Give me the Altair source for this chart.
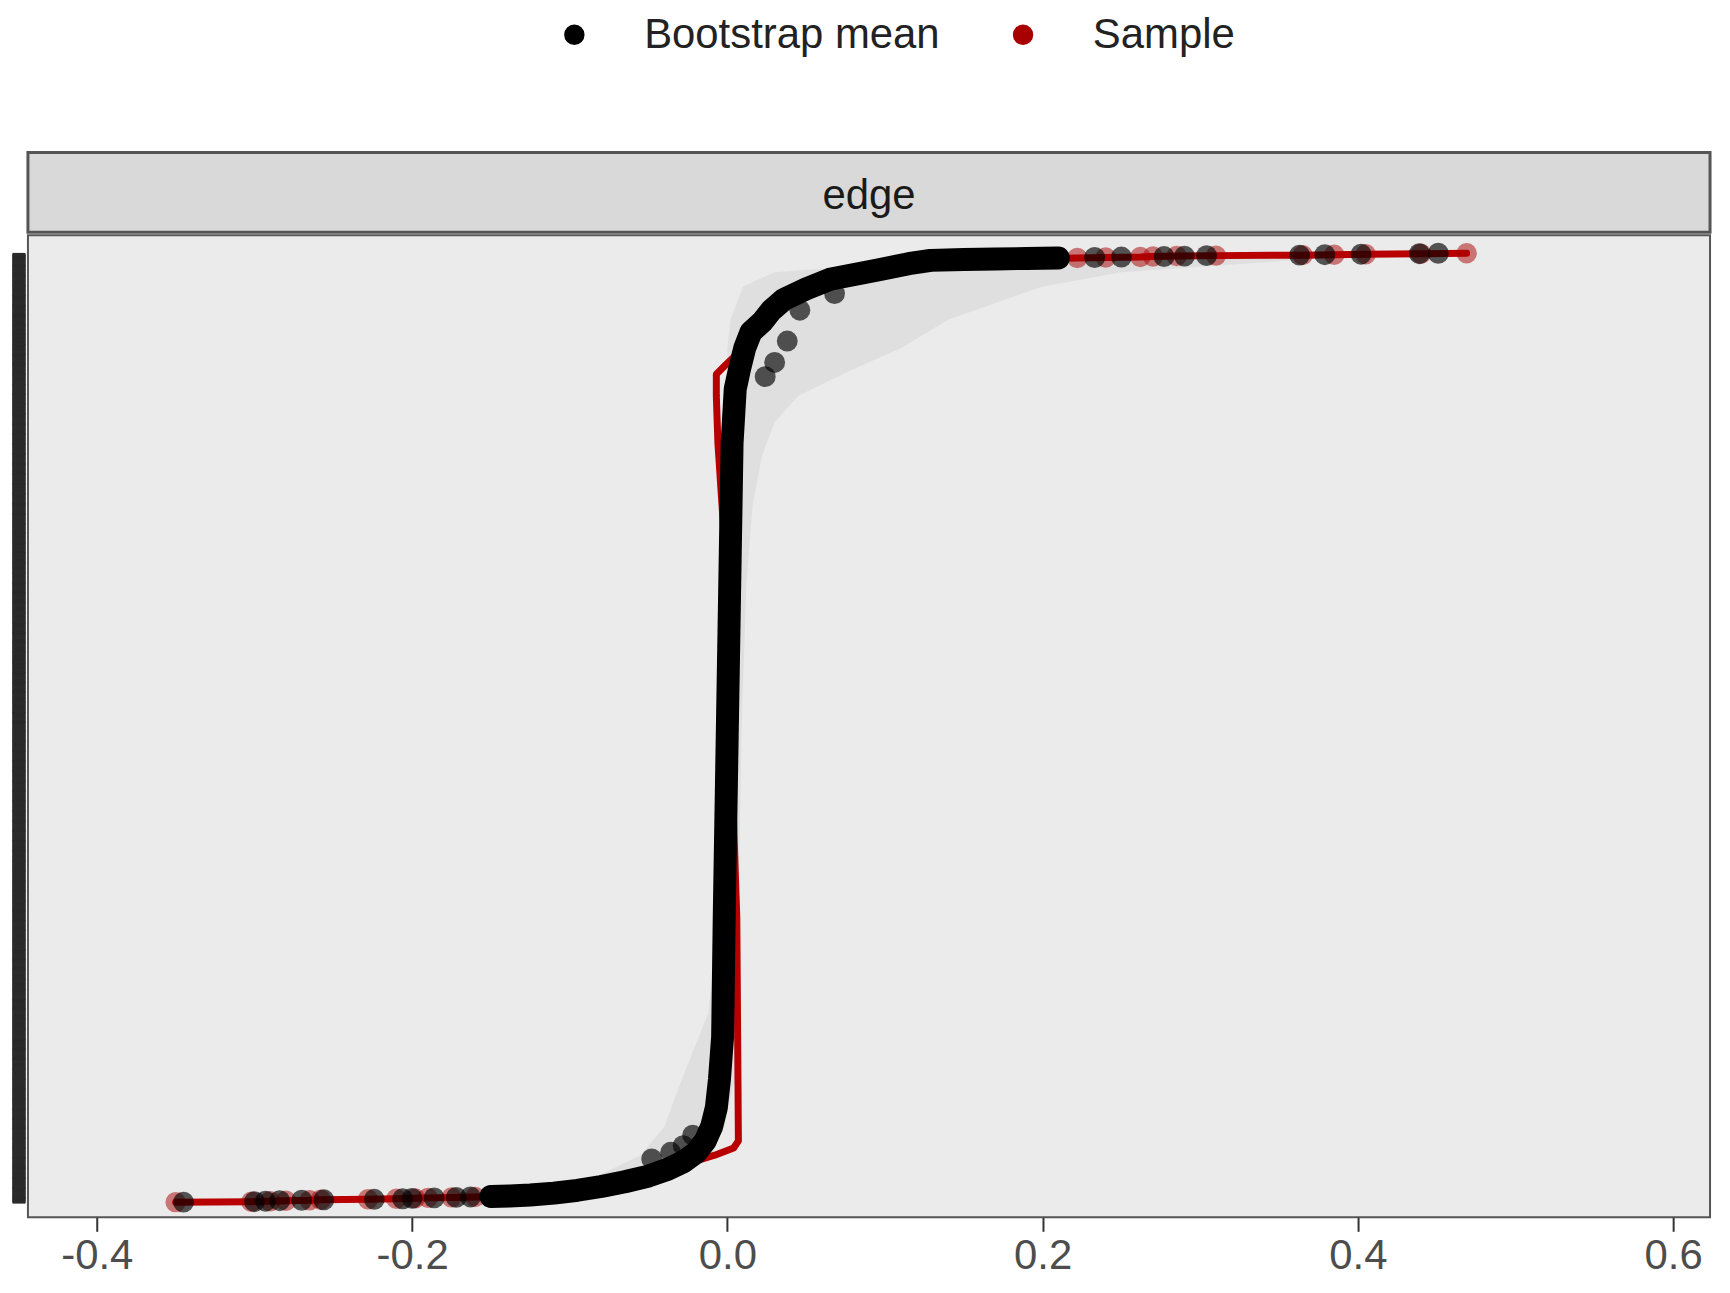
import altair as alt
import pandas as pd

N_EDGES = 2000
panel_label = "edge"
legend_labels = ["Bootstrap mean", "Sample"]
x_ticks = [-0.4, -0.2, 0.0, 0.2, 0.4, 0.6]

# bootstrap mean, ordered by edge rank
boot_rank = [1, 2, 3, 4, 5, 6, 7, 8, 9, 10, 11, 12, 13, 14, 16, 20, 26, 34, 44, 56, 70, 86,
             105, 130, 160, 200, 260, 350, 600, 1000, 1400, 1600, 1714, 1760, 1800, 1834, 1855,
             1880, 1903, 1925, 1945, 1966, 1978, 1985, 1987, 1988, 1989, 1990, 1991, 1992, 1993,
             1994, 1995, 1996, 1997, 1998, 1999, 2000]
boot_x = [-0.345, -0.300, -0.293, -0.284, -0.270, -0.256, -0.224, -0.206, -0.200, -0.186, -0.172,
          -0.163, -0.150, -0.138, -0.125, -0.110, -0.095, -0.080, -0.065, -0.050, -0.038, -0.028,
          -0.020, -0.014, -0.010, -0.007, -0.005, -0.003, -0.002, 0.000, 0.002, 0.003, 0.005,
          0.008, 0.011, 0.015, 0.022, 0.028, 0.036, 0.050, 0.065, 0.097, 0.115, 0.129, 0.150,
          0.170, 0.190, 0.210, 0.233, 0.250, 0.277, 0.290, 0.304, 0.363, 0.379, 0.402, 0.439, 0.451]

# bootstrap means that stray from the main curve
boot_out_rank = [92, 106, 120, 142, 1740, 1770, 1815, 1880, 1915]
boot_out_x = [-0.048, -0.036, -0.028, -0.022, 0.024, 0.030, 0.038, 0.046, 0.068]

# observed sample value at the same ranks
samp_rank = [1, 2, 3, 4, 5, 6, 7, 8, 9, 10, 11, 12, 13, 14, 18, 26, 40, 56, 70, 86, 100, 115,
             130, 600, 1000, 1400, 1600, 1700, 1745, 1765, 1800, 1834, 1870, 1903, 1945, 1966,
             1985, 1988, 1990, 1991, 1992, 1993, 1994, 1995, 1996, 1997, 1998, 1999, 2000]
samp_x = [-0.350, -0.302, -0.290, -0.280, -0.265, -0.258, -0.228, -0.210, -0.198, -0.190, -0.175,
          -0.160, -0.148, -0.140, -0.124, -0.097, -0.074, -0.050, -0.036, -0.022, -0.008, 0.004,
          0.007, 0.006, 0.002, -0.002, -0.006, -0.007, -0.007, -0.001, 0.010, 0.015, 0.022, 0.036,
          0.065, 0.097, 0.130, 0.190, 0.222, 0.240, 0.262, 0.270, 0.285, 0.310, 0.365, 0.385,
          0.405, 0.440, 0.469]

# bootstrap spread (light grey band)
band_rank = [1, 10, 30, 60, 100, 160, 250, 400, 600, 1000, 1300, 1469, 1574, 1644, 1700, 1756,
             1800, 1860, 1930, 1960, 1990, 2000]
band_lo = [-0.35, -0.20, -0.12, -0.08, -0.055, -0.04, -0.03, -0.012, -0.006, -0.004, -0.003,
           -0.002, -0.002, -0.001, -0.001, 0.0, 0.0, 0.002, 0.01, 0.03, 0.15, 0.40]
band_hi = [-0.30, -0.15, -0.08, -0.03, -0.01, -0.002, 0.004, 0.006, 0.007, 0.009, 0.012, 0.016,
           0.022, 0.03, 0.045, 0.08, 0.11, 0.14, 0.20, 0.25, 0.38, 0.47]

boot = pd.DataFrame({"rank": boot_rank, "value": boot_x, "series": legend_labels[0]})
boot_out = pd.DataFrame({"rank": boot_out_rank, "value": boot_out_x, "series": legend_labels[0]})
samp = pd.DataFrame({"rank": samp_rank, "value": samp_x, "series": legend_labels[1]})
band = pd.DataFrame({"rank": band_rank, "lo": band_lo, "hi": band_hi})
boot_pts = pd.concat([boot, boot_out], ignore_index=True)

FONT = "Liberation Sans"
W = 1687

x_scale = alt.Scale(domain=[-0.4437, 0.6234], nice=False, zero=False)
y_scale = alt.Scale(domain=[-31, 2038], nice=False, zero=False)
color_scale = alt.Scale(domain=legend_labels, range=["#000000", "#A80000"])

x_axis = alt.Axis(values=x_ticks, format=".1f", labelExpr="replace(datum.label, '\u2212', '-')",
                  title=None, grid=False, domain=False, tickSize=14, tickWidth=2,
                  tickColor="#333333", labelFontSize=42, labelFont=FONT, labelColor="#4D4D4D",
                  labelPadding=4)
y_axis = alt.Axis(values=list(range(1, N_EDGES + 1)), labels=False, title=None, grid=False,
                  domain=False, tickSize=13, tickWidth=1.5, tickColor="#2B2B2B", offset=3)

legend = alt.Legend(title=None, orient="none", direction="horizontal", legendX=527, legendY=-139,
                    labelFontSize=42, labelFont=FONT, labelColor="#222222", labelLimit=0,
                    symbolSize=420, symbolType="circle", symbolOpacity=1, symbolStrokeWidth=0,
                    labelOffset=49, columnPadding=62, padding=0)

def X(field):
    return alt.X(field, scale=x_scale, axis=x_axis)

Y = alt.Y("rank:Q", scale=y_scale, axis=y_axis)

band_layer = alt.Chart(band).mark_area(orient="horizontal", color="#C8C8C8", opacity=0.35).encode(
    y=Y, x=X("lo:Q"), x2="hi:Q")

samp_line = alt.Chart(samp).mark_line(color="#B80000", strokeWidth=7, strokeJoin="round",
                                      strokeCap="round").encode(
    x=X("value:Q"), y=Y, order="rank:Q")

samp_pts = alt.Chart(samp).transform_filter(
    (alt.datum.rank <= 14) | (alt.datum.rank >= 1985)
).mark_point(filled=True, opacity=0.5, size=420, strokeWidth=0).encode(
    x=X("value:Q"), y=Y, color=alt.Color("series:N", scale=color_scale, legend=legend))

boot_line = alt.Chart(boot).transform_filter(
    (alt.datum.rank >= 13) & (alt.datum.rank <= 1990)
).mark_line(color="#000000", strokeWidth=23, strokeJoin="round", strokeCap="round").encode(
    x=X("value:Q"), y=Y, order="rank:Q")

boot_pts_layer = alt.Chart(boot_pts).mark_point(filled=True, opacity=0.65, size=440,
                                                strokeWidth=0).encode(
    x=X("value:Q"), y=Y, color=alt.Color("series:N", scale=color_scale, legend=legend))

main = alt.layer(band_layer, samp_line, samp_pts, boot_line, boot_pts_layer).properties(
    width=W, height=985,
    view=alt.ViewBackground(fill="#EBEBEB", stroke="#555555", strokeWidth=2))

strip = alt.Chart(pd.DataFrame({"label": [panel_label]})).mark_text(
    fontSize=42, font=FONT, color="#1A1A1A", dy=4).encode(text="label:N").properties(
    width=W, height=80,
    view=alt.ViewBackground(fill="#D9D9D9", stroke="#555555", strokeWidth=3))

chart = alt.vconcat(strip, main, spacing=0).properties(
    padding={"left": 2, "top": 4, "right": 10, "bottom": 10}
).configure(font=FONT)

chart.save("out.html", embed_options={"renderer": "svg", "actions": False})
